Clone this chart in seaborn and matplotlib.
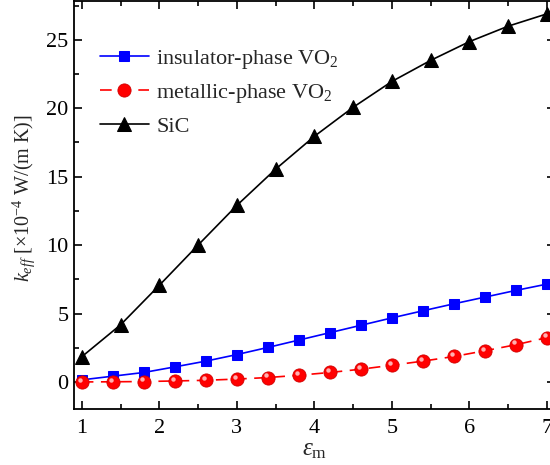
import numpy as np
import pandas as pd
import matplotlib
matplotlib.use("Agg")
import matplotlib.pyplot as plt
import matplotlib.transforms as mtransforms
from matplotlib.ticker import MultipleLocator
import seaborn as sns

# ---- data ----
eps_vo2 = [1.0, 1.4, 1.8, 2.2, 2.6, 3.0, 3.4, 3.8, 4.2, 4.6, 5.0, 5.4, 5.8, 6.2, 6.6, 7.0]
k_insulator = [0.15, 0.42, 0.69, 1.10, 1.52, 2.00, 2.52, 3.06, 3.60, 4.14, 4.68, 5.20, 5.71, 6.20, 6.69, 7.15]
k_metallic = [0.00, 0.01, 0.03, 0.07, 0.12, 0.21, 0.32, 0.49, 0.69, 0.93, 1.22, 1.52, 1.86, 2.28, 2.72, 3.24]
eps_sic = [1.0, 1.5, 2.0, 2.5, 3.0, 3.5, 4.0, 4.5, 5.0, 5.5, 6.0, 6.5, 7.0]
k_sic = [1.84, 4.17, 7.06, 10.0, 12.9, 15.55, 17.95, 20.07, 21.96, 23.5, 24.87, 26.0, 26.9]

labels = ["insulator-phase VO$_2$", "metallic-phase VO$_2$", "SiC"]
x_ticks = [1, 2, 3, 4, 5, 6, 7]
y_ticks = [0, 5, 10, 15, 20, 25]

df_vo2 = pd.DataFrame({"eps": eps_vo2, "ins": k_insulator, "met": k_metallic})
df_sic = pd.DataFrame({"eps": eps_sic, "sic": k_sic})

sns.set_style("ticks")
plt.rcParams["font.family"] = ["Liberation Serif", "DejaVu Serif"]
plt.rcParams["mathtext.fontset"] = "custom"
plt.rcParams["mathtext.rm"] = "Liberation Serif"
plt.rcParams["mathtext.it"] = "Liberation Serif:italic"
plt.rcParams["mathtext.bf"] = "Liberation Serif:bold"

fig = plt.figure(figsize=(5.5, 4.65), dpi=100)
W, H = 550.0, 465.0
left, right, top, bottom = 74.0, 554.8, 1.5, 409.3
ax = fig.add_axes([left / W, 1 - bottom / H, (right - left) / W, (bottom - top) / H])

sns.lineplot(data=df_vo2, x="eps", y="ins", ax=ax, color="#0000ff", lw=1.2,
             marker="s", markersize=7.5, markeredgecolor="#0000ff", label=labels[0])
sns.lineplot(data=df_vo2, x="eps", y="met", ax=ax, color="#ff0000", lw=1.2,
             linestyle=(0, (7, 4.5)), marker="o", markersize=9.5,
             markeredgecolor="#d00000", markeredgewidth=0.6, label=labels[1])
# sphere highlight
off = mtransforms.offset_copy(ax.transData, fig=fig, x=-1.6, y=1.6, units="points")
ax.plot(eps_vo2, k_metallic, ls="none", marker="o", markersize=3.2,
        color="#ffb0b0", markeredgewidth=0, transform=off)
sns.lineplot(data=df_sic, x="eps", y="sic", ax=ax, color="black", lw=1.2,
             marker="^", markersize=9.5, markeredgecolor="black", label=labels[2])

ax.set_xlim(0.9, 7.1)
ax.set_ylim(-2, 27.8)
ax.set_xticks(x_ticks)
ax.set_yticks(y_ticks)
ax.xaxis.set_minor_locator(MultipleLocator(0.5))
ax.yaxis.set_minor_locator(MultipleLocator(2.5))
ax.tick_params(which="both", direction="in", top=True, right=True, labelsize=16,
               width=1.2, colors="black")
ax.tick_params(which="major", length=6)
ax.tick_params(which="minor", length=3.5)
ax.tick_params(axis="x", pad=7)
ax.tick_params(axis="y", pad=4)
for s in ax.spines.values():
    s.set_linewidth(1.3)
    s.set_color("black")

ax.set_xlabel(r"$\varepsilon_{\mathrm{m}}$", fontsize=18, labelpad=1)
ax.set_ylabel(r"$k_{eff}$ [×10$^{-4}$ W/(m K)]", fontsize=14.5)
ax.yaxis.set_label_coords(-0.077, 0.518)

leg = ax.legend(loc="upper left", bbox_to_anchor=(0.035, 0.908), frameon=False,
                fontsize=16, handlelength=2.2, handletextpad=0.35, labelspacing=0.5,
                borderaxespad=0)

fig.savefig("out.png", dpi=100)
